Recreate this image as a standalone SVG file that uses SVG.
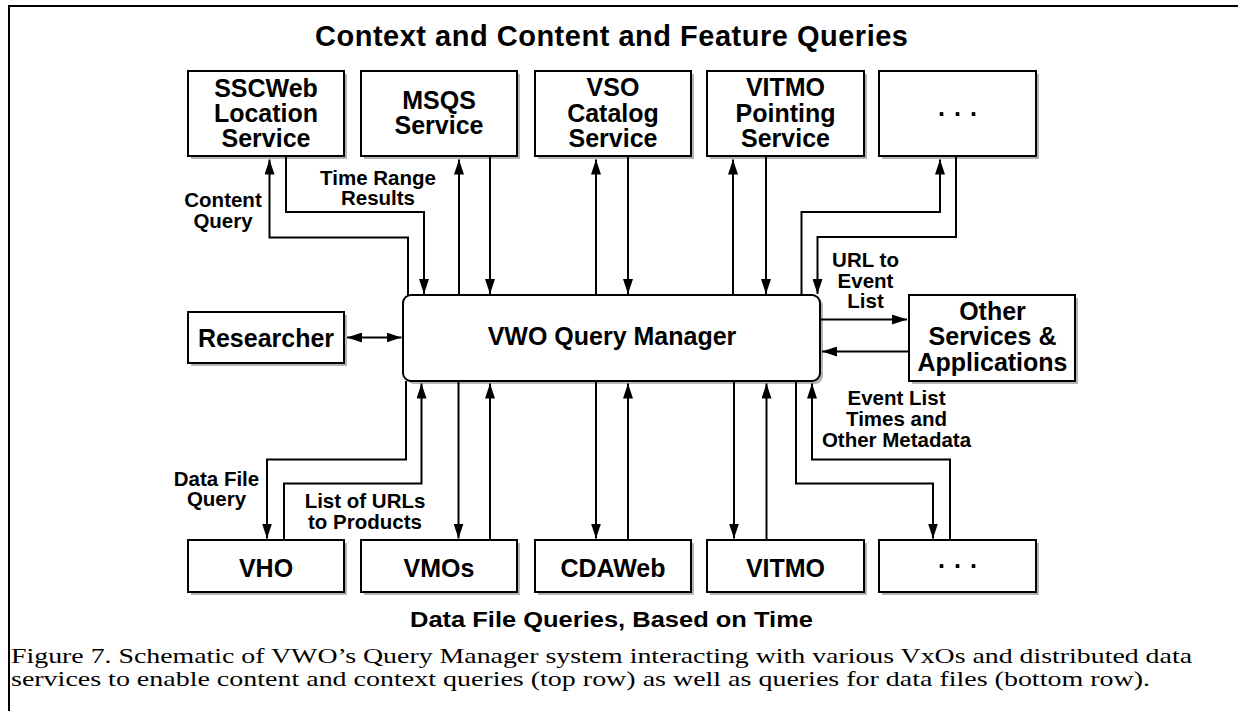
<svg xmlns="http://www.w3.org/2000/svg" width="1238" height="711" viewBox="0 0 1238 711">
<style>
.box{fill:#fff;stroke:#000;stroke-width:2}
.sh{fill:#b4b4b4}
.bt{font-family:"Liberation Sans",Arial,sans-serif;font-weight:bold;font-size:25px;text-anchor:middle;fill:#000}
.lb{font-family:"Liberation Sans",Arial,sans-serif;font-weight:bold;font-size:20.5px;text-anchor:middle;fill:#000}
.hd{font-family:"Liberation Sans",Arial,sans-serif;font-weight:bold;text-anchor:middle;fill:#000}
.cap{font-family:"Liberation Serif","Times New Roman",serif;font-size:22px;fill:#000}
.ln{fill:none;stroke:#000;stroke-width:2}
.ar{marker-end:url(#ah)}
</style>
<defs>
<marker id="ah" markerUnits="userSpaceOnUse" markerWidth="16" markerHeight="10" refX="15" refY="5" orient="auto-start-reverse">
<path d="M0,0 L15,5 L0,10 z" fill="#000"/>
</marker>
</defs>
<rect width="1238" height="711" fill="#fff"/>
<path d="M9,711 V6 H1238" fill="none" stroke="#000" stroke-width="2"/>
<text class="hd" x="611.5" y="45.5" font-size="29" textLength="593" lengthAdjust="spacing">Context and Content and Feature Queries</text>

<g id="sscweb"><rect class="sh" x="191" y="74" width="156" height="85"/><rect class="box" x="188" y="71" width="156" height="85"/>
<text class="bt"><tspan x="266" y="97">SSCWeb</tspan><tspan x="266" y="122">Location</tspan><tspan x="266" y="147">Service</tspan></text></g>
<g id="msqs"><rect class="sh" x="364" y="74" width="156" height="85"/><rect class="box" x="361" y="71" width="156" height="85"/>
<text class="bt"><tspan x="439" y="108.5">MSQS</tspan><tspan x="439" y="133.5">Service</tspan></text></g>
<g id="vso"><rect class="sh" x="538" y="74" width="156" height="85"/><rect class="box" x="535" y="71" width="156" height="85"/>
<text class="bt"><tspan x="613" y="96">VSO</tspan><tspan x="613" y="121.5">Catalog</tspan><tspan x="613" y="147">Service</tspan></text></g>
<g id="vitmo-pointing"><rect class="sh" x="710" y="74" width="157" height="85"/><rect class="box" x="707" y="71" width="157" height="85"/>
<text class="bt"><tspan x="785.5" y="96">VITMO</tspan><tspan x="785.5" y="121.5">Pointing</tspan><tspan x="785.5" y="147">Service</tspan></text></g>
<g id="more-top"><rect class="sh" x="882" y="74" width="157" height="85"/><rect class="box" x="879" y="71" width="157" height="85"/>
<text class="bt" x="962" y="115.5" letter-spacing="9">...</text></g>

<g id="researcher"><rect class="sh" x="191" y="315" width="156" height="51"/><rect class="box" x="188" y="312" width="156" height="51"/>
<text class="bt" x="266" y="347">Researcher</text></g>
<g id="query-manager"><rect class="sh" x="406" y="298" width="417" height="86" rx="8"/><rect class="box" x="403" y="295" width="417" height="86" rx="8"/>
<text class="bt" x="612" y="345" font-size="25.5">VWO Query Manager</text></g>
<g id="other-services"><rect class="sh" x="912" y="298" width="166" height="86"/><rect class="box" x="909" y="295" width="166" height="86"/>
<text class="bt"><tspan x="992.5" y="320">Other</tspan><tspan x="992.5" y="345">Services &amp;</tspan><tspan x="992.5" y="370.5">Applications</tspan></text></g>

<g id="vho"><rect class="sh" x="191" y="543" width="156" height="52"/><rect class="box" x="188" y="540" width="156" height="52"/>
<text class="bt" x="266" y="576.5">VHO</text></g>
<g id="vmos"><rect class="sh" x="364" y="543" width="156" height="52"/><rect class="box" x="361" y="540" width="156" height="52"/>
<text class="bt" x="439" y="576.5">VMOs</text></g>
<g id="cdaweb"><rect class="sh" x="538" y="543" width="156" height="52"/><rect class="box" x="535" y="540" width="156" height="52"/>
<text class="bt" x="613" y="576.5">CDAWeb</text></g>
<g id="vitmo"><rect class="sh" x="710" y="543" width="157" height="52"/><rect class="box" x="707" y="540" width="157" height="52"/>
<text class="bt" x="785.5" y="576.5">VITMO</text></g>
<g id="more-bottom"><rect class="sh" x="882" y="543" width="157" height="52"/><rect class="box" x="879" y="540" width="157" height="52"/>
<text class="bt" x="962" y="568" letter-spacing="9">...</text></g>

<g id="connectors">
<path class="ln ar" d="M408,295 V237.5 H269.5 V159.5"/>
<path class="ln ar" d="M286,156 V212 H424 V294"/>
<path class="ln ar" d="M459,295 V159.5"/>
<path class="ln ar" d="M490,156 V294"/>
<path class="ln ar" d="M596,295 V159.5"/>
<path class="ln ar" d="M628,156 V294"/>
<path class="ln ar" d="M733,295 V159.5"/>
<path class="ln ar" d="M766,156 V294"/>
<path class="ln ar" d="M801.5,295 V212 H940 V159.5"/>
<path class="ln ar" d="M956,156 V237 H817.5 V294"/>
<path class="ln ar" d="M820,319.5 H907"/>
<path class="ln ar" d="M909,351.5 H822"/>
<path class="ln ar" d="M347,337.5 H401.5" marker-start="url(#ah)"/>
<path class="ln ar" d="M406,381 V459.5 H267 V538.5"/>
<path class="ln ar" d="M284,540 V483.5 H421.5 V383.5"/>
<path class="ln ar" d="M458.5,381 V538.5"/>
<path class="ln ar" d="M490,540 V383.5"/>
<path class="ln ar" d="M596,381 V538.5"/>
<path class="ln ar" d="M628,540 V383.5"/>
<path class="ln ar" d="M734,381 V538.5"/>
<path class="ln ar" d="M766.5,540 V383.5"/>
<path class="ln ar" d="M796,381 V483.5 H933 V538.5"/>
<path class="ln ar" d="M950,540 V459.5 H812 V383.5"/>
</g>

<g id="labels">
<text class="lb"><tspan x="223" y="207">Content</tspan><tspan x="223" y="228">Query</tspan></text>
<text class="lb"><tspan x="378" y="185">Time Range</tspan><tspan x="378" y="205">Results</tspan></text>
<text class="lb"><tspan x="865.5" y="267">URL to</tspan><tspan x="865.5" y="287.5">Event</tspan><tspan x="865.5" y="308">List</tspan></text>
<text class="lb"><tspan x="896.5" y="405">Event List</tspan><tspan x="896.5" y="426">Times and</tspan><tspan x="896.5" y="446.5">Other Metadata</tspan></text>
<text class="lb"><tspan x="216.5" y="485.5">Data File</tspan><tspan x="216.5" y="506">Query</tspan></text>
<text class="lb"><tspan x="365" y="507.5">List of URLs</tspan><tspan x="365" y="529">to Products</tspan></text>
</g>

<text class="hd" x="611.5" y="626.5" font-size="22" textLength="403" lengthAdjust="spacingAndGlyphs">Data File Queries, Based on Time</text>
<text class="cap" x="11" y="663" textLength="1181" lengthAdjust="spacingAndGlyphs">Figure 7. Schematic of VWO’s Query Manager system interacting with various VxOs and distributed data</text>
<text class="cap" x="11" y="686" textLength="1139" lengthAdjust="spacingAndGlyphs">services to enable content and context queries (top row) as well as queries for data files (bottom row).</text>
</svg>
